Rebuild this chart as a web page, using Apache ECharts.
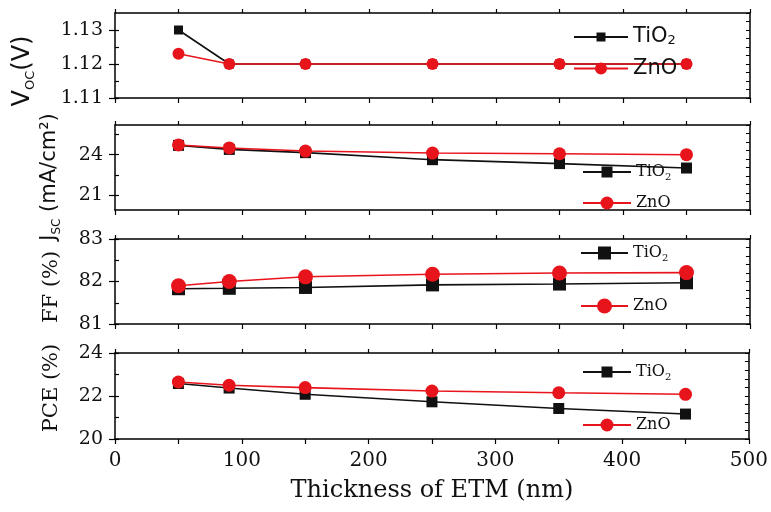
<!DOCTYPE html>
<html>
<head>
<meta charset="utf-8">
<script src="https://cdn.jsdelivr.net/npm/echarts@6/dist/echarts.min.js"></script>
<style>html,body{margin:0;padding:0;background:#fff;}#c{width:771px;height:512px;}</style>
</head>
<body>
<div id="c"></div>
<script>
// ---- data ----
const thickness = [50, 90, 150, 250, 350, 450];
const vocTiO2 = [1.130, 1.120, 1.120, 1.120, 1.120, 1.120];
const vocZnO  = [1.123, 1.120, 1.120, 1.120, 1.120, 1.120];
const jscTiO2 = [24.69, 24.39, 24.15, 23.63, 23.34, 23.01];
const jscZnO  = [24.72, 24.50, 24.27, 24.12, 24.07, 24.00];
const ffTiO2  = [81.83, 81.84, 81.86, 81.92, 81.94, 81.97];
const ffZnO   = [81.90, 82.00, 82.11, 82.17, 82.20, 82.21];
const pceTiO2 = [22.58, 22.37, 22.08, 21.73, 21.42, 21.16];
const pceZnO  = [22.65, 22.50, 22.39, 22.23, 22.15, 22.08];
// tick labels
const vocTicks = [1.11, 1.12, 1.13];
const jscTicks = [21, 24];
const ffTicks  = [81, 82, 83];
const pceTicks = [20, 22, 24];
const vocMinor = [1.115, 1.125];
const jscMinor = [22.5, 25.5];
const ffMinor  = [81.5, 82.5];
const pceMinor = [21, 23];
const xTicks = [0, 100, 200, 300, 400, 500];
const seriesNames = ['TiO2', 'ZnO'];

const BLACK = '#111111', RED = '#e8141c';
const SERIF = 'DejaVu Serif';
const SANS = 'DejaVu Sans';

const panels = [
  {top: 13,  height: 85, min: 1.11, max: 1.135, ticks: vocTicks, minor: vocMinor, dec: 2, a: vocTiO2, b: vocZnO, sq: 9, ci: 12,
   leg: [[573, 35], [573, 68]], legW: 54, legFont: SANS, legSize: 21},
  {top: 125, height: 85, min: 19.9, max: 26.2, ticks: jscTicks, minor: jscMinor, dec: 0, a: jscTiO2, b: jscZnO, sq: 11, ci: 13,
   leg: [[582, 172], [582, 203]], legW: 48, legFont: SERIF, legSize: 16},
  {top: 239, height: 85, min: 81, max: 83, ticks: ffTicks, minor: ffMinor, dec: 0, a: ffTiO2, b: ffZnO, sq: 13, ci: 15,
   leg: [[580, 253], [580, 306]], legW: 47, legFont: SERIF, legSize: 16},
  {top: 353, height: 86, min: 20, max: 24, ticks: pceTicks, minor: pceMinor, dec: 0, a: pceTiO2, b: pceZnO, sq: 11, ci: 13,
   leg: [[582, 372], [582, 425]], legW: 48, legFont: SERIF, legSize: 16}
];

const grid = [], xAxis = [], yAxis = [], series = [], legend = [];
const axisLineStyle = {color: '#000', width: 1.5};

panels.forEach((p, i) => {
  grid.push({left: 115, width: 635, top: p.top, height: p.height});
  const last = i === panels.length - 1;
  xAxis.push({
    type: 'value', gridIndex: i, position: 'bottom', min: 0, max: 500, interval: 50,
    axisLine: {show: true, lineStyle: axisLineStyle},
    axisTick: {show: true, length: 5, lineStyle: {color: '#000', width: 1.2}},
    axisLabel: {show: last, customValues: xTicks, margin: 12, fontFamily: SERIF, fontSize: 20, color: '#111'},
    splitLine: {show: false},
    name: last ? 'Thickness of ETM (nm)' : '',
    nameLocation: 'middle', nameGap: 40,
    nameTextStyle: {fontFamily: SERIF, fontSize: 24, color: '#111'}
  });
  xAxis.push({
    type: 'value', gridIndex: i, position: 'top', min: 0, max: 500, interval: 50,
    axisLine: {show: true, lineStyle: axisLineStyle},
    axisTick: {show: true, length: 4, lineStyle: {color: '#000', width: 1.2}},
    axisLabel: {show: false}, splitLine: {show: false}
  });
  // right-side fine ticks
  const rightTicks = [];
  for (let k = 0; k <= 10; k++) rightTicks.push(p.min + (p.max - p.min) * k / 10);
  yAxis.push({
    type: 'value', gridIndex: i, position: 'left', min: p.min, max: p.max,
    axisLine: {show: true, lineStyle: axisLineStyle},
    axisTick: {show: true, length: 6, customValues: p.ticks, lineStyle: {color: '#000', width: 1.2}},
    axisLabel: {customValues: p.ticks, margin: 12, fontFamily: SERIF, fontSize: 19, color: '#111',
      formatter: v => v.toFixed(p.dec)},
    splitLine: {show: false}
  });
  yAxis.push({
    type: 'value', gridIndex: i, position: 'left', min: p.min, max: p.max,
    axisLine: {show: false},
    axisTick: {show: true, inside: true, length: 4, customValues: p.ticks.concat(p.minor), lineStyle: {color: '#000', width: 1.2}},
    axisLabel: {show: false}, splitLine: {show: false}
  });
  yAxis.push({
    type: 'value', gridIndex: i, position: 'right', min: p.min, max: p.max,
    axisLine: {show: true, lineStyle: axisLineStyle},
    axisTick: {show: true, inside: true, length: 4, customValues: rightTicks, lineStyle: {color: '#000', width: 1}},
    axisLabel: {show: false}, splitLine: {show: false}
  });
  const mk = (vals) => thickness.map((t, j) => [t, vals[j]]);
  const defs = [
    {name: seriesNames[0] + '_' + i, data: mk(p.a), color: BLACK, symbol: 'rect', size: p.sq},
    {name: seriesNames[1] + '_' + i, data: mk(p.b), color: RED, symbol: 'circle', size: p.ci}
  ];
  defs.forEach((d, k) => {
    series.push({
      type: 'line', name: d.name, xAxisIndex: 2 * i, yAxisIndex: 3 * i, data: d.data,
      symbol: d.symbol, symbolSize: d.size, showSymbol: true,
      lineStyle: {color: d.color, width: 1.6}, itemStyle: {color: d.color},
      animation: false, z: 2 + k
    });
    const lh = 20;
    legend.push({
      data: [d.name], orient: 'horizontal', left: p.leg[k][0], top: p.leg[k][1] - lh / 2,
      padding: 0, itemWidth: p.legW, itemHeight: d.size / 0.8 > lh ? lh : d.size / 0.8, selectedMode: false,
      formatter: n => n.indexOf('TiO2') === 0 ? '{m|TiO}{s|2}' : '{m|ZnO}',
      textStyle: {color: '#111', fontFamily: p.legFont, fontSize: p.legSize, lineHeight: lh,
        rich: {
          m: {fontFamily: p.legFont, fontSize: p.legSize, color: '#111', lineHeight: lh},
          s: {fontFamily: p.legFont, fontSize: Math.round(p.legSize * 0.6), color: '#111', verticalAlign: 'bottom', lineHeight: lh, padding: [Math.round(p.legSize*0.45), 0, 0, 0]}
        }}
    });
  });
});

const graphic = [
  {type: 'text', x: 23, y: 71, rotation: Math.PI / 2,
   style: {text: '{m|V}{s|OC}{m|(V)}', align: 'center', verticalAlign: 'middle',
     rich: {m: {fontFamily: SANS, fontSize: 24, fill: '#111', lineHeight: 28},
            s: {fontFamily: SANS, fontSize: 13, fill: '#111', lineHeight: 28, verticalAlign: 'bottom', padding: [12, 0, 0, 0]}}}},
  {type: 'text', x: 50, y: 177, rotation: Math.PI / 2,
   style: {text: '{m|J}{s|SC}{m| (mA/cm²)}', align: 'center', verticalAlign: 'middle',
     rich: {m: {fontFamily: SANS, fontSize: 21, fill: '#111', lineHeight: 26},
            s: {fontFamily: SANS, fontSize: 12, fill: '#111', lineHeight: 26, verticalAlign: 'bottom', padding: [11, 0, 0, 0]}}}},
  {type: 'text', x: 52, y: 287, rotation: Math.PI / 2,
   style: {text: 'FF (%)', align: 'center', verticalAlign: 'middle', font: '21px "DejaVu Serif"', fill: '#111'}},
  {type: 'text', x: 52, y: 388, rotation: Math.PI / 2,
   style: {text: 'PCE (%)', align: 'center', verticalAlign: 'middle', font: '21px "DejaVu Serif"', fill: '#111'}}
];

const chart = echarts.init(document.getElementById('c'), null, {renderer: 'canvas'});
chart.setOption({
  animation: false, backgroundColor: '#fff',
  grid, xAxis, yAxis, series, legend, graphic
});
</script>
</body>
</html>
